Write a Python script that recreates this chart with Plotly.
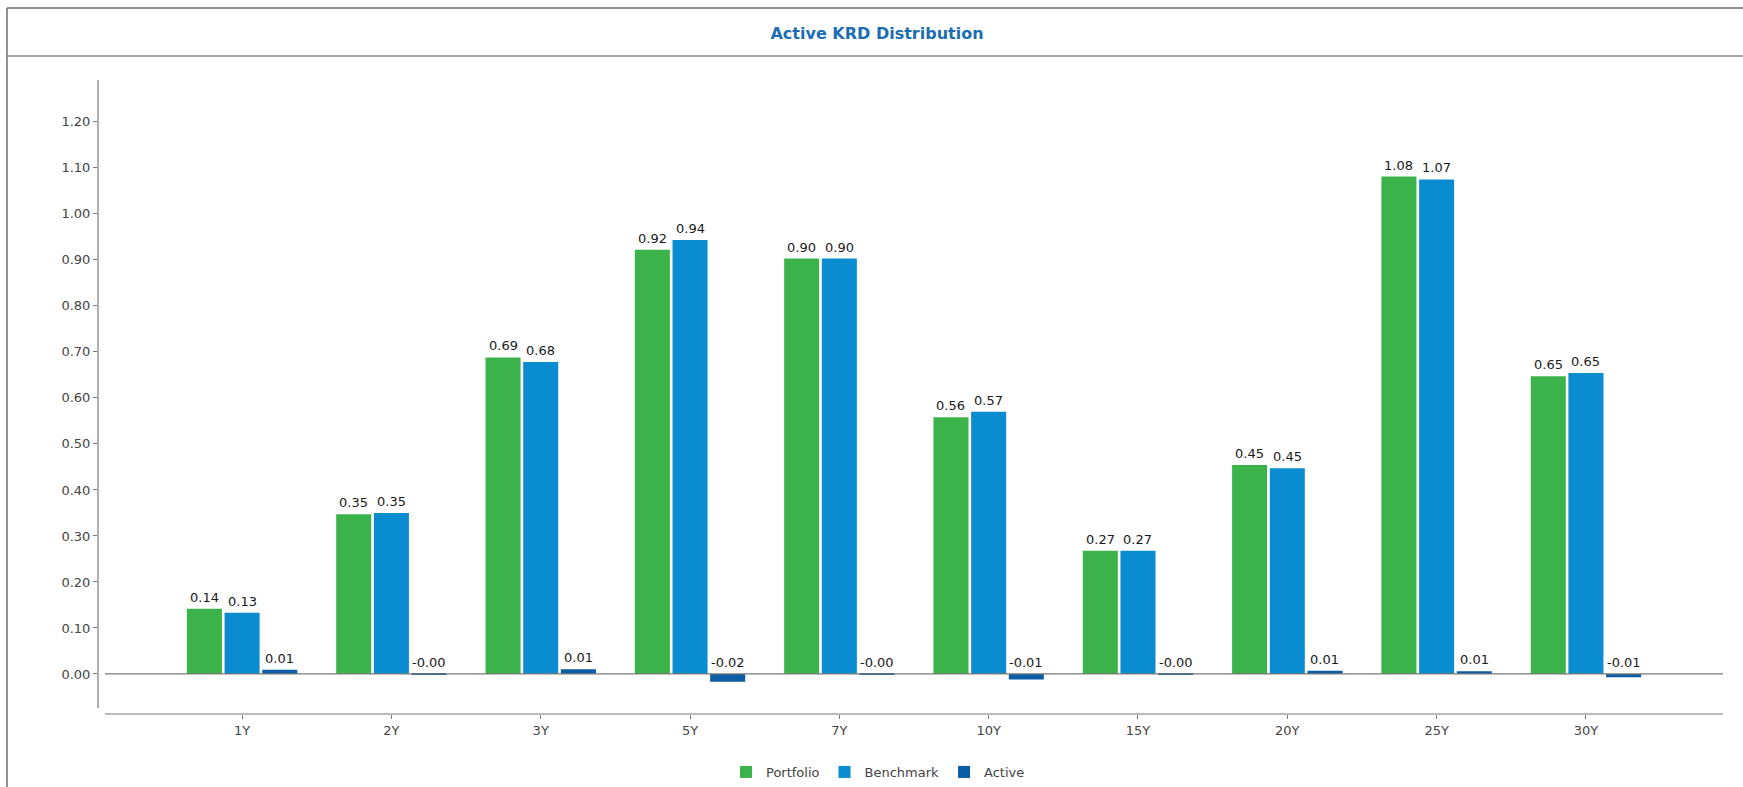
import plotly.graph_objects as go

categories = ["1Y", "2Y", "3Y", "5Y", "7Y", "10Y", "15Y", "20Y", "25Y", "30Y"]
portfolio = [0.142, 0.347, 0.688, 0.922, 0.903, 0.558, 0.268, 0.454, 1.081, 0.647]
benchmark = [0.133, 0.350, 0.678, 0.943, 0.903, 0.570, 0.268, 0.447, 1.075, 0.654]
active = [0.009, -0.002, 0.010, -0.017, -0.001, -0.012, -0.001, 0.007, 0.006, -0.007]
y_ticks = [0.0, 0.1, 0.2, 0.3, 0.4, 0.5, 0.6, 0.7, 0.8, 0.9, 1.0, 1.1, 1.2]

series = [
    ("Portfolio", portfolio, "#3cb34a"),
    ("Benchmark", benchmark, "#0a8dd0"),
    ("Active", active, "#0b5ea6"),
]

W, H = 1743, 787
ML, MR, MT, MB = 98, 20, 80, 73
plot_w = W - ML - MR
plot_h = H - MT - MB

def px_x(px):
    return (px - ML) / plot_w

def px_y(py):
    return (H - MB - py) / plot_h

FONT = "DejaVu Sans"
bargap = 0.243
slot = (1 - bargap) / 3

fig = go.Figure()
for name, vals, color in series:
    fig.add_trace(go.Bar(
        name=name, x=categories, y=vals,
        marker=dict(color=color, line=dict(width=0)),
        hoverinfo="x+y",
    ))

annotations = []
for k, (name, vals, color) in enumerate(series):
    for i, v in enumerate(vals):
        annotations.append(dict(
            x=i + (k - 1) * slot, y=max(v, 0), xref="x", yref="y",
            text=f"{v:.2f}", showarrow=False, yanchor="bottom", xanchor="center",
            yshift=2, font=dict(family=FONT, size=13, color="#1a1a1a"),
        ))

line_col = "#7a7a7a"
shapes = [
    # outer frame
    dict(type="line", xref="paper", yref="paper", x0=px_x(7), x1=px_x(1760), y0=px_y(8), y1=px_y(8),
         line=dict(color="#6e6e6e", width=1.5)),
    dict(type="line", xref="paper", yref="paper", x0=px_x(7), x1=px_x(1760), y0=px_y(56), y1=px_y(56),
         line=dict(color="#8a8a8a", width=1.5)),
    dict(type="line", xref="paper", yref="paper", x0=px_x(7), x1=px_x(7), y0=px_y(8), y1=px_y(800),
         line=dict(color="#6e6e6e", width=1.5)),
    # y axis line
    dict(type="line", xref="paper", yref="paper", x0=0, x1=0, y0=px_y(708), y1=1,
         line=dict(color=line_col, width=1.2)),
    # x axis line
    dict(type="line", xref="paper", yref="paper", x0=px_x(105), x1=1, y0=0, y1=0,
         line=dict(color=line_col, width=1.2)),
    # zero line
    dict(type="line", xref="paper", yref="y", x0=px_x(105), x1=1, y0=0, y1=0,
         line=dict(color=line_col, width=1.2)),
]

fig.update_layout(
    width=W, height=H,
    margin=dict(l=ML, r=MR, t=MT, b=MB, pad=0, autoexpand=False),
    paper_bgcolor="white", plot_bgcolor="white",
    barmode="group", bargap=bargap, bargroupgap=0.07,
    title=dict(text="<b>Active KRD Distribution</b>", x=877 / W, xanchor="center",
               y=1 - 33 / H, yanchor="middle", yref="container",
               font=dict(family=FONT, size=16, color="#1d6db2")),
    font=dict(family=FONT, size=13, color="#444444"),
    showlegend=True,
    legend=dict(orientation="h", x=878 / W, xanchor="center", xref="container",
                y=1 - 772 / H, yanchor="middle", yref="container",
                font=dict(family=FONT, size=13, color="#444444"), itemwidth=30,
                bgcolor="rgba(0,0,0,0)"),
    xaxis=dict(type="category", range=[-0.965, 9.918], showline=False, showgrid=False,
               zeroline=False, ticks="outside", ticklen=4, tickcolor=line_col, automargin=False,
               tickfont=dict(family=FONT, size=13, color="#444444")),
    yaxis=dict(range=[-0.087, 1.291], tickvals=y_ticks, ticktext=[f"{t:.2f}" for t in y_ticks],
               showline=False, showgrid=False, zeroline=False, ticks="outside", ticklen=4,
               tickcolor=line_col, automargin=False,
               tickfont=dict(family=FONT, size=13, color="#444444")),
    annotations=annotations,
    shapes=shapes,
)

fig.write_html("out.html", config={"displayModeBar": False},
               post_script="document.body.style.margin='0';")
